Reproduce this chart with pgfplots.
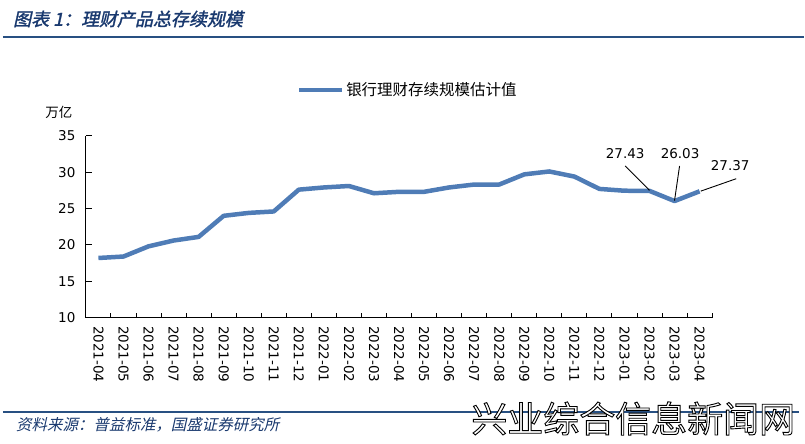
\documentclass[border=0pt]{standalone}
\usepackage{pgfplots}
\pgfplotsset{compat=1.18}
\usepackage{fontspec}
\setmainfont{DejaVu Sans}
\newfontfamily\cjk{Noto Sans CJK SC}
\newfontfamily\cjktitle[FakeSlant=0.22,FakeBold=1.6]{Noto Sans CJK SC}
\newfontfamily\cjksrc[FakeSlant=0.22]{Noto Sans CJK SC}
\newfontfamily\cjkwm[FakeBold=2.5]{Noto Sans CJK SC}
\definecolor{lineblue}{RGB}{79,124,182}
\definecolor{titleblue}{RGB}{24,56,110}
\definecolor{rulecol}{RGB}{40,80,130}
\begin{document}
\begin{tikzpicture}
\path (0pt,0pt) rectangle (805pt,-444pt);
% title
\node[anchor=west, inner sep=0pt, text=titleblue] at (13pt,-19pt) {\fontsize{18}{20}\cjktitle 图表 1：理财产品总存续规模};
\draw[rulecol, line width=2pt] (3pt,-37pt) -- (805pt,-37pt);
% y unit
\node[anchor=center, inner sep=0pt] at (59pt,-113pt) {\fontsize{13.5}{15}\cjk 万亿};
\begin{axis}[
  at={(86pt,-318pt)}, anchor=south west,
  width=627pt, height=182pt, scale only axis,
  xmin=-0.5, xmax=24.5, ymin=10, ymax=35,
  axis x line*=bottom, axis y line*=left,
  axis line style={-, line width=0.9pt, black},
  clip=false,
  xtick={0,...,24},
  xticklabels={2021-04,2021-05,2021-06,2021-07,2021-08,2021-09,2021-10,2021-11,2021-12,2022-01,2022-02,2022-03,2022-04,2022-05,2022-06,2022-07,2022-08,2022-09,2022-10,2022-11,2022-12,2023-01,2023-02,2023-03,2023-04},
  major x tick style={draw=none},
  minor xtick={0.5,1.5,...,24.5},
  minor tick length=5pt,
  major tick length=6pt,
  tick align=inside,
  tick style={black, line width=0.9pt},
  ytick={10,15,20,25,30,35},
  xticklabel style={rotate=-90, anchor=west, font=\fontsize{13.5}{15}\selectfont},
  xticklabel shift=5pt,
  yticklabel style={font=\fontsize{13.5}{15}\selectfont},
  yticklabel shift=7pt,
  /pgf/number format/assume math mode=true,
  legend style={draw=none, fill=none, at={(0.3365,1.2527)}, anchor=west, inner sep=0pt, font=\fontsize{15.5}{17}\cjk},
  legend image code/.code={\draw[#1, line width=4.5pt] (0pt,0pt) -- (43pt,0pt);},
  legend cell align=left,
]
\addplot[lineblue, line width=4.5pt, line join=round, mark=none] coordinates {
(0,18.2) (1,18.4) (2,19.8) (3,20.6) (4,21.1) (5,24.0) (6,24.4) (7,24.6) (8,27.6)
(9,27.9) (10,28.1) (11,27.1) (12,27.3) (13,27.3) (14,27.9) (15,28.3) (16,28.3)
(17,29.7) (18,30.1) (19,29.4) (20,27.7) (21,27.45) (22,27.43) (23,26.03) (24,27.37)
};
\addlegendentry{银行理财存续规模估计值}
\draw[black, line width=0.9pt] (axis cs:21.03,30.85) -- (axis cs:22,27.5);
\draw[black, line width=0.9pt] (axis cs:23.2,30.85) -- (axis cs:23,26.1);
\draw[black, line width=0.9pt] (axis cs:25.46,29.1) -- (axis cs:24.05,27.4);
\node[font=\fontsize{13.5}{15}\selectfont, inner sep=0pt] at (axis cs:21.03,32.5) {27.43};
\node[font=\fontsize{13.5}{15}\selectfont, inner sep=0pt] at (axis cs:23.22,32.5) {26.03};
\node[font=\fontsize{13.5}{15}\selectfont, inner sep=0pt] at (axis cs:25.22,30.9) {27.37};
\end{axis}
% bottom rule and source
\draw[rulecol, line width=2pt] (3pt,-413pt) -- (800pt,-413pt);
\node[anchor=west, inner sep=0pt, text=titleblue] at (16pt,-425pt) {\fontsize{15.5}{17}\cjksrc 资料来源：普益标准，国盛证券研究所};
% watermark (outlined text)
\node[inner sep=0pt, text=white] at (634pt,-419pt) {\special{pdf:code q 2 Tr 1.6 w 0 G}\fontsize{36}{38}\cjkwm 兴业综合信息新闻网\special{pdf:code Q}};
\end{tikzpicture}
\end{document}
